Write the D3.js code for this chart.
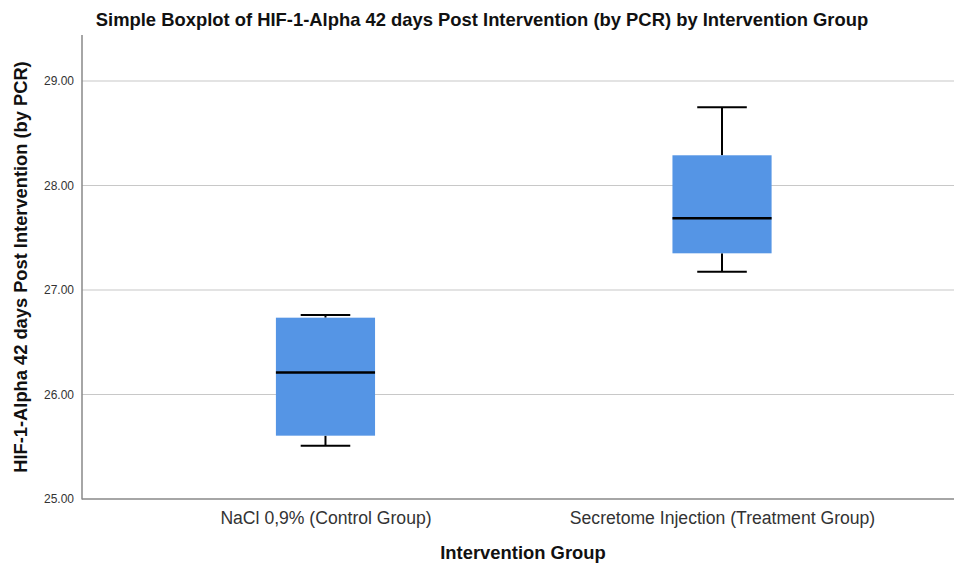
<!DOCTYPE html>
<html><head><meta charset="utf-8">
<script src="https://cdn.jsdelivr.net/npm/d3@7"></script>
<style>body{margin:0;background:#fff;} svg{display:block;font-family:"Liberation Sans",Arial,sans-serif;}</style>
</head><body>
<svg id="c" width="954" height="564"></svg>
<script>
const categories = ["NaCl 0,9% (Control Group)", "Secretome Injection (Treatment Group)"];
const whiskerLow = [25.51, 27.175];
const q1 = [25.606, 27.351];
const median = [26.21, 27.686];
const q3 = [26.735, 28.289];
const whiskerHigh = [26.76, 28.748];
const yTicks = [25, 26, 27, 28, 29];

(function () {
const svg = d3.select("#c");
const pLeft = 82, pTop = 35, pBottom = 499, pRight = 965.5;
const y = d3.scaleLinear().domain([25, 29.44]).range([pBottom, pTop]);
const x = d3.scalePoint().domain(categories).range([pLeft, pRight]).padding(0.614);
const bw = x.step() * 0.25, cw = x.step() * 0.125;

// gridlines
svg.append("g").selectAll("line").data(yTicks.slice(1)).join("line")
  .attr("x1", pLeft).attr("x2", 954).attr("y1", d => y(d)).attr("y2", d => y(d))
  .attr("stroke", "#c8c8c8").attr("stroke-width", 1.2);

// axes
const yAxis = svg.append("g").attr("transform", `translate(${pLeft},0)`)
  .call(d3.axisLeft(y).tickValues(yTicks).tickFormat(d3.format(".2f")).tickSize(0).tickPadding(8));
yAxis.select(".domain").remove();
yAxis.selectAll("text").attr("font-size", 12).attr("fill", "#333").attr("font-family", "Liberation Sans, Arial");

const xAxis = svg.append("g").attr("transform", `translate(0,${pBottom})`)
  .call(d3.axisBottom(x).tickSize(0).tickPadding(13));
xAxis.select(".domain").remove();
xAxis.selectAll("text").attr("font-size", 17.6).attr("fill", "#333").attr("font-family", "Liberation Sans, Arial");

svg.append("line").attr("x1", pLeft).attr("x2", pLeft).attr("y1", pTop).attr("y2", pBottom + 0.5)
  .attr("stroke", "#888").attr("stroke-width", 1.5);
svg.append("line").attr("x1", pLeft).attr("x2", 954).attr("y1", pBottom).attr("y2", pBottom)
  .attr("stroke", "#888").attr("stroke-width", 1.5);

// boxes
const g = svg.append("g");
categories.forEach((c, i) => {
  const cx = x(c);
  g.append("line").attr("x1", cx).attr("x2", cx).attr("y1", y(whiskerHigh[i])).attr("y2", y(q3[i]))
    .attr("stroke", "#000").attr("stroke-width", 2);
  g.append("line").attr("x1", cx).attr("x2", cx).attr("y1", y(q1[i])).attr("y2", y(whiskerLow[i]))
    .attr("stroke", "#000").attr("stroke-width", 2);
  g.append("line").attr("x1", cx - cw/2).attr("x2", cx + cw/2).attr("y1", y(whiskerHigh[i])).attr("y2", y(whiskerHigh[i]))
    .attr("stroke", "#000").attr("stroke-width", 2);
  g.append("line").attr("x1", cx - cw/2).attr("x2", cx + cw/2).attr("y1", y(whiskerLow[i])).attr("y2", y(whiskerLow[i]))
    .attr("stroke", "#000").attr("stroke-width", 2);
  g.append("rect").attr("x", cx - bw/2).attr("width", bw).attr("y", y(q3[i])).attr("height", y(q1[i]) - y(q3[i]))
    .attr("fill", "#5595e5");
  g.append("line").attr("x1", cx - bw/2).attr("x2", cx + bw/2).attr("y1", y(median[i])).attr("y2", y(median[i]))
    .attr("stroke", "#000").attr("stroke-width", 2.5);
});

// titles
svg.append("text").attr("x", 482).attr("y", 26).attr("text-anchor", "middle")
  .attr("font-size", 18.4).attr("font-weight", "bold").attr("fill", "#111")
  .text("Simple Boxplot of HIF-1-Alpha 42 days Post Intervention (by PCR) by Intervention Group");
svg.append("text").attr("transform", "translate(27,267) rotate(-90)").attr("text-anchor", "middle")
  .attr("font-size", 18.3).attr("font-weight", "bold").attr("fill", "#111")
  .text("HIF-1-Alpha 42 days Post Intervention (by PCR)");
svg.append("text").attr("x", 523).attr("y", 559).attr("text-anchor", "middle")
  .attr("font-size", 18.4).attr("font-weight", "bold").attr("fill", "#111")
  .text("Intervention Group");
})();
</script>
</body></html>
